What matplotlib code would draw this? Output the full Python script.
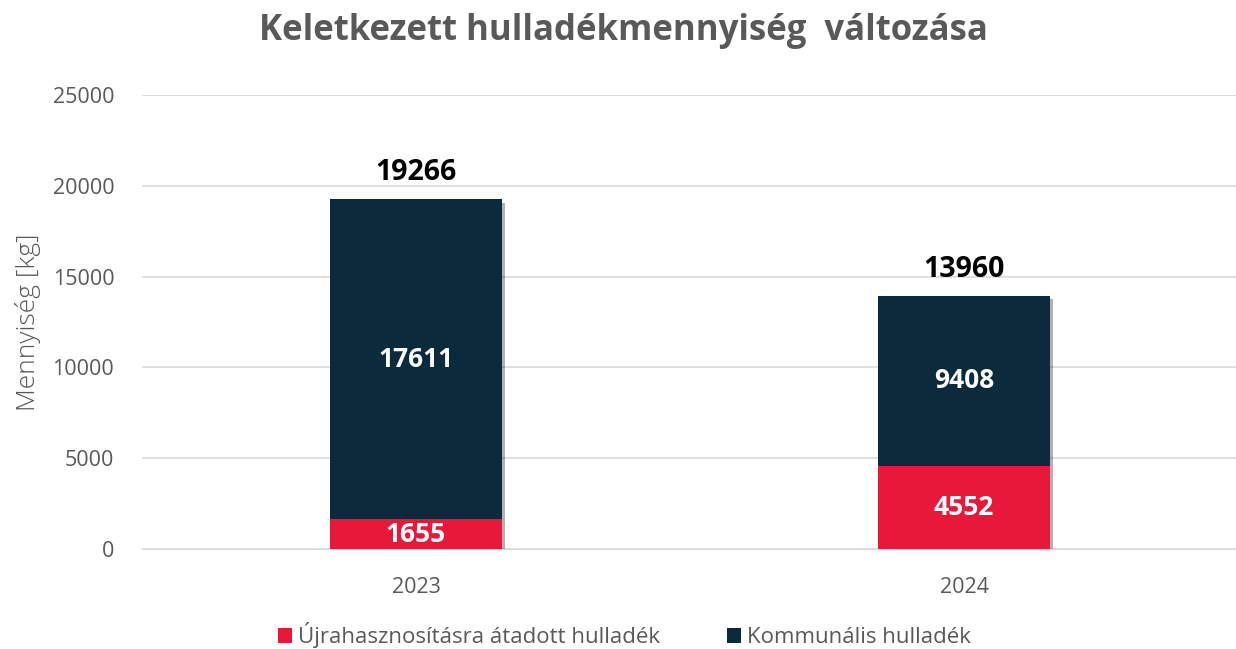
import numpy as np
import matplotlib.pyplot as plt
import matplotlib.patheffects as pe

years = ['2023', '2024']
ujra = [1655, 4552]
kommunalis = [17611, 9408]
osszes = [19266, 13960]

red = '#E8183A'
navy = '#0B2A3C'
gray = '#595959'

plt.rcParams['font.family'] = ['Open Sans', 'DejaVu Sans']

fig = plt.figure(figsize=(12.36, 6.49), dpi=100)
ax = fig.add_axes([0.1149, 0.154, 0.8867, 0.6996])

x = np.arange(len(years))
w = 0.313
shadow = [pe.SimplePatchShadow(offset=(2.5, -2.5), shadow_rgbFace='#000000', alpha=0.3), pe.Normal()]

# teljes oszlop árnyékkal, a szegmensek alá rajzolva
back = ax.bar(x, osszes, w, color=navy, zorder=2)
for p in back:
    p.set_path_effects(shadow)

ax.bar(x, ujra, w, color=red, label='Újrahasznosításra átadott hulladék', zorder=3)
ax.bar(x, kommunalis, w, bottom=ujra, color=navy, label='Kommunális hulladék', zorder=3)

for i in range(len(years)):
    ax.text(x[i], ujra[i] / 2, str(ujra[i]), ha='center', va='center',
            color='white', fontsize=19, fontweight='bold', zorder=4)
    ax.text(x[i], ujra[i] + kommunalis[i] / 2, str(kommunalis[i]), ha='center', va='center',
            color='white', fontsize=19, fontweight='bold', zorder=4)
    ax.text(x[i], osszes[i] + 650, str(osszes[i]), ha='center', va='bottom',
            color='black', fontsize=20.5, fontweight='bold', zorder=4)

ax.set_xlim(-0.5, 1.5)
ax.set_ylim(0, 25000)
ax.set_yticks(range(0, 25001, 5000))
ax.set_xticks(x)
ax.set_xticklabels(years)
ax.grid(axis='y', color='#D9D9D9', linewidth=1.2, zorder=0)
for s in ax.spines.values():
    s.set_visible(False)
ax.spines['bottom'].set_visible(True)
ax.spines['bottom'].set_color('#D9D9D9')
ax.tick_params(axis='both', length=0, labelsize=15.5, labelcolor=gray)
ax.tick_params(axis='y', pad=20)
ax.tick_params(axis='x', pad=20)
ax.set_ylabel('Mennyiség [kg]', fontsize=19, fontweight='light', color=gray, labelpad=8)

fig.suptitle('Keletkezett hulladékmennyiség  változása', x=0.504, y=0.98,
             fontsize=25, fontweight='bold', color=gray)

fig.legend(loc='lower center', bbox_to_anchor=(0.505, -0.03), ncol=2, frameon=False,
           fontsize=16, labelcolor=gray, handlelength=0.65, handleheight=0.65,
           handletextpad=0.25, columnspacing=3.0)

fig.savefig('out.png', dpi=100)
